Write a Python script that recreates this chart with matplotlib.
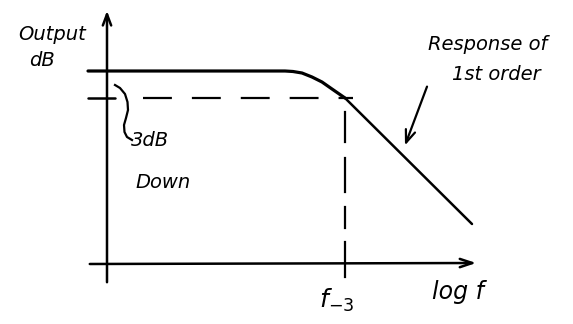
import matplotlib
matplotlib.use("Agg")
import matplotlib.pyplot as plt

# sketch drawn in picture units (x right, y down)
flat_x = [88, 285, 293, 302, 312, 322, 332, 345]
flat_y = [71, 71, 71.5, 73, 77, 82, 89, 98]
slope_x = [345, 472]
slope_y = [98, 224]
level_3db = 98
f3 = 345
f3_dash_top = [112, 158, 207, 242]
f3_dash_bottom = [142, 192, 228, 277]

bracket_x = [115, 120, 125, 127.5, 128, 126, 124, 124.5, 127, 132]
bracket_y = [85, 88, 94, 102, 110, 118, 125, 132, 137, 140]

labels = {
    "ylabel": ["Output", "dB"],
    "down": ["3dB", "Down"],
    "response": ["Response of", "1st order"],
    "f3": "f$_{-3}$",
    "xlabel": "log f",
}

fig = plt.figure(figsize=(5.73, 3.24), dpi=100)
ax = fig.add_axes([0, 0, 1, 1])
ax.set_xlim(0, 573)
ax.set_ylim(324, 0)
ax.axis("off")

k = dict(color="black", lw=1.8, solid_capstyle="round")

# axes with arrows
ax.annotate("", xy=(107, 8), xytext=(107, 285),
            arrowprops=dict(arrowstyle="->,head_length=0.8,head_width=0.3", lw=1.8, color="black"))
ax.annotate("", xy=(479, 263), xytext=(87, 264),
            arrowprops=dict(arrowstyle="->,head_length=0.9,head_width=0.3", lw=1.8, color="black"))

# response
ax.plot(flat_x, flat_y, color="black", lw=2.3, solid_capstyle="round")
ax.plot(slope_x, slope_y, **k)

# -3dB guides
ax.plot([88, 115], [level_3db, level_3db], **k)
ax.plot([143, 353], [level_3db, level_3db], color="black", lw=1.6, dashes=(13, 9))
for top, bot in zip(f3_dash_top, f3_dash_bottom):
    ax.plot([f3, f3], [top, bot], color="black", lw=1.6)

# bracket
ax.plot(bracket_x, bracket_y, color="black", lw=1.6)

# annotation arrow
ax.annotate("", xy=(404, 148), xytext=(428, 84),
            arrowprops=dict(arrowstyle="->,head_length=0.9,head_width=0.35", lw=1.6, color="black"))

tk = dict(color="black", fontsize=14, family="DejaVu Sans", style="italic")
ax.text(52, 35, labels["ylabel"][0], ha="center", va="center", **tk)
ax.text(42, 60, labels["ylabel"][1], ha="center", va="center", **tk)
ax.text(150, 141, labels["down"][0], ha="center", va="center", **tk)
ax.text(163, 182, labels["down"][1], ha="center", va="center", **tk)
ax.text(488, 44, labels["response"][0], ha="center", va="center", **tk)
ax.text(496, 75, labels["response"][1], ha="center", va="center", **tk)
ax.text(337, 300, labels["f3"], ha="center", va="center", color="black", fontsize=18,
        family="DejaVu Sans", style="italic")
ax.text(458, 292, labels["xlabel"], ha="center", va="center", color="black", fontsize=17,
        family="DejaVu Sans", style="italic")

fig.savefig("out.png", dpi=100)
